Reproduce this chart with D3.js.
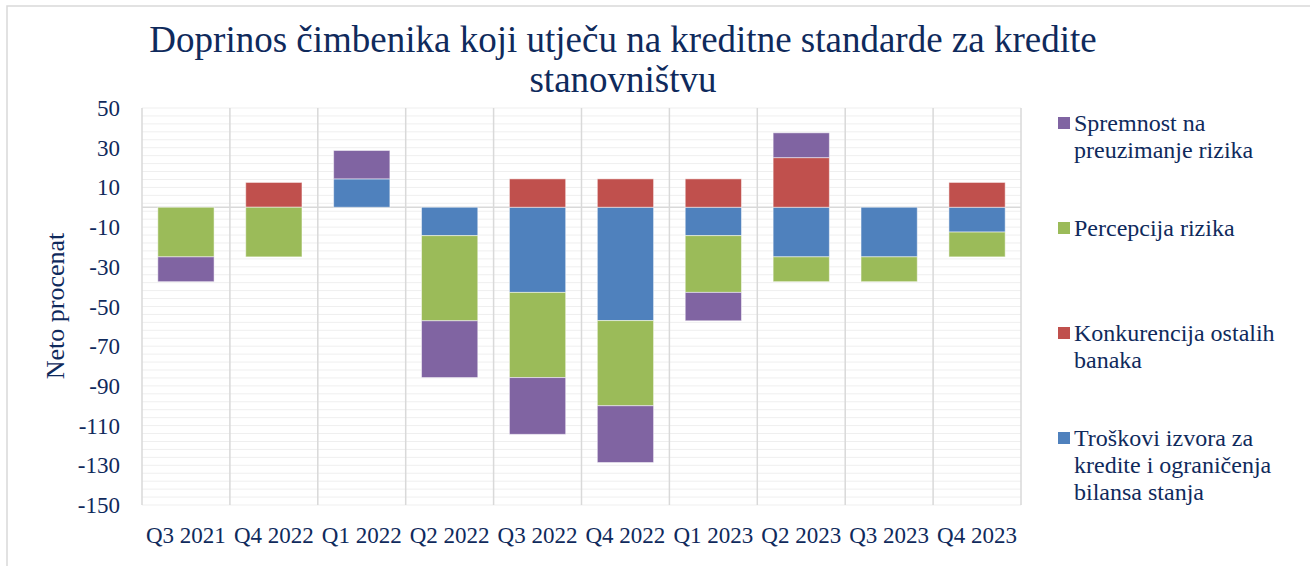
<!DOCTYPE html>
<html><head><meta charset="utf-8">
<script src="https://cdn.jsdelivr.net/npm/d3@7"></script>
<style>html,body{margin:0;padding:0;background:#fff;}svg{display:block;}</style>
</head><body>
<svg id="c" width="1310" height="566"></svg>
<script>
const categories = ["Q3 2021","Q4 2022","Q1 2022","Q2 2022","Q3 2022","Q4 2022","Q1 2023","Q2 2023","Q3 2023","Q4 2023"];
const troskovi     = [0, 0, 14.3, -14.3, -42.9, -57.1, -14.3, -25, -25, -12.5];
const konkurencija = [0, 12.5, 0, 0, 14.3, 14.3, 14.3, 25, 0, 12.5];
const percepcija   = [-25, -25, 0, -42.9, -42.9, -42.9, -28.6, -12.5, -12.5, -12.5];
const spremnost    = [-12.5, 0, 14.3, -28.6, -28.6, -28.6, -14.3, 12.5, 0, 0];
const yTicks = [50, 30, 10, -10, -30, -50, -70, -90, -110, -130, -150];
const seriesKeys = ["troskovi","konkurencija","percepcija","spremnost"];
const colors = ["#4f81bd","#c0504d","#9bbb59","#8064a2"];
const legendLines = [
  ["Spremnost na","preuzimanje rizika"],
  ["Percepcija rizika"],
  ["Konkurencija ostalih","banaka"],
  ["Troškovi izvora za","kredite i ograničenja","bilansa stanja"]
];
const legendColors = ["#8064a2","#9bbb59","#c0504d","#4f81bd"];

const navy = "#0f2a5c";
const font = "'Liberation Serif','Times New Roman',serif";
const svg = d3.select("#c");

svg.append("rect").attr("x",7).attr("y",6).attr("width",1320).attr("height",580)
  .attr("fill","#fff").attr("stroke","#d9d9d9").attr("stroke-width",1.5);

const L=142, R=1021, T=108, B=505;
const idx = categories.map((c,i)=>i);
const x = d3.scaleBand().domain(idx).range([L,R]).paddingInner(0.36).paddingOuter(0.18);
const xb = d3.scaleBand().domain(idx).range([L,R]);
const y = d3.scaleLinear().domain([-150,50]).range([B,T]);

// minor gridlines
const minor = d3.range(-150, 50.01, 4);
svg.append("g").selectAll("line").data(minor).join("line")
  .attr("x1",L).attr("x2",R).attr("y1",d=>y(d)).attr("y2",d=>y(d))
  .attr("stroke","#efefef").attr("stroke-width",1);

// vertical category lines
const vlines = idx.map(i=>xb(i)).concat([R]);
svg.append("g").selectAll("line").data(vlines).join("line")
  .attr("x1",d=>d).attr("x2",d=>d).attr("y1",T).attr("y2",B)
  .attr("stroke","#d9d9d9").attr("stroke-width",1.5);

// zero line
svg.append("line").attr("x1",L).attr("x2",R).attr("y1",y(0)).attr("y2",y(0))
  .attr("stroke","#d9d9d9").attr("stroke-width",1.5);

// stacked data
const table = categories.map((c,i)=>({i:i, troskovi:troskovi[i], konkurencija:konkurencija[i], percepcija:percepcija[i], spremnost:spremnost[i]}));
const stack = d3.stack().keys(seriesKeys).offset(d3.stackOffsetDiverging);
const stacked = stack(table);

svg.append("g").selectAll("g").data(stacked).join("g")
  .attr("fill",(d,i)=>colors[i])
  .selectAll("rect").data(d=>d.filter(p=>p[1]!==p[0])).join("rect")
  .attr("x",d=>x(d.data.i)).attr("width",x.bandwidth())
  .attr("y",d=>y(Math.max(d[0],d[1]))).attr("height",d=>Math.abs(y(d[0])-y(d[1])))
  .attr("stroke","#ffffff").attr("stroke-opacity",0.5).attr("stroke-width",1);

// y axis labels
svg.append("g").selectAll("text").data(yTicks).join("text")
  .attr("x",120).attr("y",d=>y(d)).attr("dy","0.35em").attr("text-anchor","end")
  .attr("font-family",font).attr("font-size",23).attr("fill",navy).text(d=>d);

// x axis labels
svg.append("g").selectAll("text").data(idx).join("text")
  .attr("x",d=>xb(d)+xb.bandwidth()/2).attr("y",543).attr("text-anchor","middle")
  .attr("font-family",font).attr("font-size",23).attr("fill",navy).text(d=>categories[d]);

// y title
svg.append("text").attr("transform","translate(64,306) rotate(-90)").attr("text-anchor","middle")
  .attr("font-family",font).attr("font-size",26).attr("fill",navy).text("Neto procenat");

// title
const title = svg.append("text").attr("text-anchor","middle").attr("font-family",font).attr("font-size",37).attr("fill",navy);
title.append("tspan").attr("x",623).attr("y",52).text("Doprinos čimbenika koji utječu na kreditne standarde za kredite");
title.append("tspan").attr("x",623).attr("y",92).text("stanovništvu");

// legend
const legendY = [123, 228, 333, 438];
const lg = svg.append("g");
legendLines.forEach((lines,i)=>{
  lg.append("rect").attr("x",1058).attr("y",legendY[i]-6).attr("width",12).attr("height",12).attr("fill",legendColors[i]);
  const t = lg.append("text").attr("font-family",font).attr("font-size",24).attr("fill",navy);
  lines.forEach((ln,j)=>{
    t.append("tspan").attr("x",1074).attr("y",legendY[i]+j*27).attr("dy","0.35em").text(ln);
  });
});
</script>
</body></html>
